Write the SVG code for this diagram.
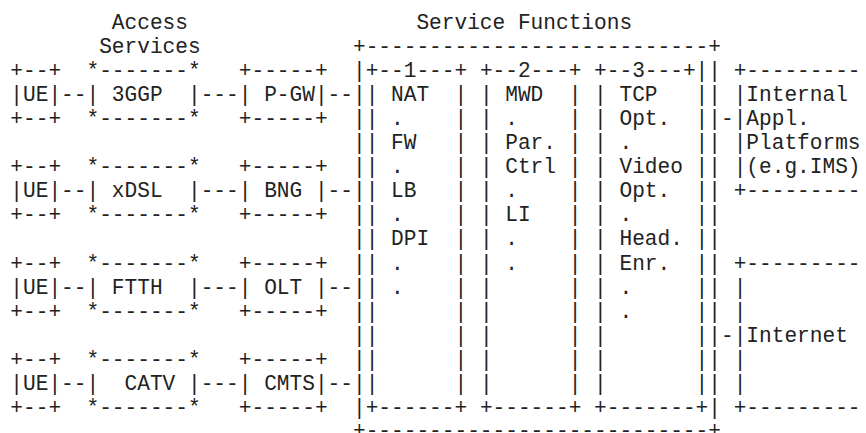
<svg xmlns="http://www.w3.org/2000/svg" width="866" height="433" viewBox="0 0 866 433" xml:space="preserve">
<style>
text { font-family: "Liberation Mono", "Courier New", monospace; font-size: 21.15px; fill: #222; white-space: pre; }
</style>
<rect width="866" height="433" fill="#fff"/>
<g id="labels">
<text x="111.87" y="29">Access</text>
<text x="99.18" y="53.05">Services</text>
<text x="416.43" y="29">Service Functions</text>
</g>
<g id="ue1">
<text x="10.35" y="77.1">+--+</text>
<text x="10.35" y="101.15">|UE|</text>
<text x="10.35" y="125.2">+--+</text>
</g>
<g id="ue2">
<text x="10.35" y="173.3">+--+</text>
<text x="10.35" y="197.35">|UE|</text>
<text x="10.35" y="221.4">+--+</text>
</g>
<g id="ue3">
<text x="10.35" y="269.5">+--+</text>
<text x="10.35" y="293.55">|UE|</text>
<text x="10.35" y="317.6">+--+</text>
</g>
<g id="ue4">
<text x="10.35" y="365.7">+--+</text>
<text x="10.35" y="389.75">|UE|</text>
<text x="10.35" y="413.8">+--+</text>
</g>
<g id="access-3ggp">
<text x="86.49" y="77.1">*-------*</text>
<text x="86.49" y="101.15">| 3GGP  |</text>
<text x="86.49" y="125.2">*-------*</text>
</g>
<g id="access-xdsl">
<text x="86.49" y="173.3">*-------*</text>
<text x="86.49" y="197.35">| xDSL  |</text>
<text x="86.49" y="221.4">*-------*</text>
</g>
<g id="access-ftth">
<text x="86.49" y="269.5">*-------*</text>
<text x="86.49" y="293.55">| FTTH  |</text>
<text x="86.49" y="317.6">*-------*</text>
</g>
<g id="access-catv">
<text x="86.49" y="365.7">*-------*</text>
<text x="86.49" y="389.75">|  CATV |</text>
<text x="86.49" y="413.8">*-------*</text>
</g>
<g id="gw-pgw">
<text x="238.77" y="77.1">+-----+</text>
<text x="238.77" y="101.15">| P-GW|</text>
<text x="238.77" y="125.2">+-----+</text>
</g>
<g id="gw-bng">
<text x="238.77" y="173.3">+-----+</text>
<text x="238.77" y="197.35">| BNG |</text>
<text x="238.77" y="221.4">+-----+</text>
</g>
<g id="gw-olt">
<text x="238.77" y="269.5">+-----+</text>
<text x="238.77" y="293.55">| OLT |</text>
<text x="238.77" y="317.6">+-----+</text>
</g>
<g id="gw-cmts">
<text x="238.77" y="365.7">+-----+</text>
<text x="238.77" y="389.75">| CMTS|</text>
<text x="238.77" y="413.8">+-----+</text>
</g>
<g id="service-functions">
<text x="352.98" y="53.05">+---------------------------+</text>
<text x="352.98" y="77.1">|</text><text x="708.3" y="77.1">|</text>
<text x="352.98" y="101.15">|</text><text x="708.3" y="101.15">|</text>
<text x="352.98" y="125.2">|</text><text x="708.3" y="125.2">|</text>
<text x="352.98" y="149.25">|</text><text x="708.3" y="149.25">|</text>
<text x="352.98" y="173.3">|</text><text x="708.3" y="173.3">|</text>
<text x="352.98" y="197.35">|</text><text x="708.3" y="197.35">|</text>
<text x="352.98" y="221.4">|</text><text x="708.3" y="221.4">|</text>
<text x="352.98" y="245.45">|</text><text x="708.3" y="245.45">|</text>
<text x="352.98" y="269.5">|</text><text x="708.3" y="269.5">|</text>
<text x="352.98" y="293.55">|</text><text x="708.3" y="293.55">|</text>
<text x="352.98" y="317.6">|</text><text x="708.3" y="317.6">|</text>
<text x="352.98" y="341.65">|</text><text x="708.3" y="341.65">|</text>
<text x="352.98" y="365.7">|</text><text x="708.3" y="365.7">|</text>
<text x="352.98" y="389.75">|</text><text x="708.3" y="389.75">|</text>
<text x="352.98" y="413.8">|</text><text x="708.3" y="413.8">|</text>
<text x="352.98" y="436.5">+---------------------------+</text>
</g>
<g id="sf1">
<text x="365.67" y="77.1">+--1---+</text>
<text x="365.67" y="101.15">| NAT  |</text>
<text x="365.67" y="125.2">| .    |</text>
<text x="365.67" y="149.25">| FW   |</text>
<text x="365.67" y="173.3">| .    |</text>
<text x="365.67" y="197.35">| LB   |</text>
<text x="365.67" y="221.4">| .    |</text>
<text x="365.67" y="245.45">| DPI  |</text>
<text x="365.67" y="269.5">| .    |</text>
<text x="365.67" y="293.55">| .    |</text>
<text x="365.67" y="317.6">|      |</text>
<text x="365.67" y="341.65">|      |</text>
<text x="365.67" y="365.7">|      |</text>
<text x="365.67" y="389.75">|      |</text>
<text x="365.67" y="413.8">+------+</text>
</g>
<g id="sf2">
<text x="479.88" y="77.1">+--2---+</text>
<text x="479.88" y="101.15">| MWD  |</text>
<text x="479.88" y="125.2">| .    |</text>
<text x="479.88" y="149.25">| Par. |</text>
<text x="479.88" y="173.3">| Ctrl |</text>
<text x="479.88" y="197.35">| .    |</text>
<text x="479.88" y="221.4">| LI   |</text>
<text x="479.88" y="245.45">| .    |</text>
<text x="479.88" y="269.5">| .    |</text>
<text x="479.88" y="293.55">|      |</text>
<text x="479.88" y="317.6">|      |</text>
<text x="479.88" y="341.65">|      |</text>
<text x="479.88" y="365.7">|      |</text>
<text x="479.88" y="389.75">|      |</text>
<text x="479.88" y="413.8">+------+</text>
</g>
<g id="sf3">
<text x="594.09" y="77.1">+--3---+|</text>
<text x="594.09" y="101.15">| TCP   |</text>
<text x="594.09" y="125.2">| Opt.  |</text>
<text x="594.09" y="149.25">| .     |</text>
<text x="594.09" y="173.3">| Video |</text>
<text x="594.09" y="197.35">| Opt.  |</text>
<text x="594.09" y="221.4">| .     |</text>
<text x="594.09" y="245.45">| Head. |</text>
<text x="594.09" y="269.5">| Enr.  |</text>
<text x="594.09" y="293.55">| .     |</text>
<text x="594.09" y="317.6">| .     |</text>
<text x="594.09" y="341.65">|       |</text>
<text x="594.09" y="365.7">|       |</text>
<text x="594.09" y="389.75">|       |</text>
<text x="594.09" y="413.8">+-------+</text>
</g>
<g id="internal-platforms">
<text x="733.68" y="77.1">+---------</text>
<text x="733.68" y="101.15">|Internal</text>
<text x="733.68" y="125.2">|Appl.</text>
<text x="733.68" y="149.25">|Platforms</text>
<text x="733.68" y="173.3">|(e.g.IMS)</text>
<text x="733.68" y="197.35">+---------</text>
</g>
<g id="internet">
<text x="733.68" y="269.5">+---------</text>
<text x="733.68" y="293.55">|</text>
<text x="733.68" y="317.6">|</text>
<text x="733.68" y="341.65">|Internet</text>
<text x="733.68" y="365.7">|</text>
<text x="733.68" y="389.75">|</text>
<text x="733.68" y="413.8">+---------</text>
</g>
<g id="connectors">
<text x="61.11" y="101.15">--</text>
<text x="200.7" y="101.15">---</text>
<text x="327.6" y="101.15">--</text>
<text x="61.11" y="197.35">--</text>
<text x="200.7" y="197.35">---</text>
<text x="327.6" y="197.35">--</text>
<text x="61.11" y="293.55">--</text>
<text x="200.7" y="293.55">---</text>
<text x="327.6" y="293.55">--</text>
<text x="61.11" y="389.75">--</text>
<text x="200.7" y="389.75">---</text>
<text x="327.6" y="389.75">--</text>
<text x="720.99" y="125.2">-</text>
<text x="720.99" y="341.65">-</text>
</g>
</svg>
